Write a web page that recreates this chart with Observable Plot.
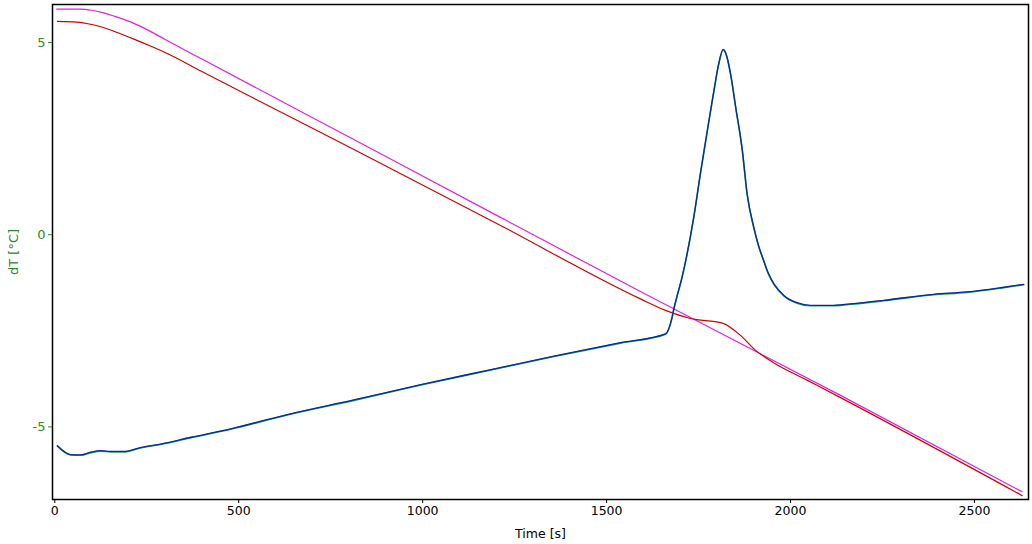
<!DOCTYPE html>
<html>
<head>
<meta charset="utf-8">
<script src="https://cdn.jsdelivr.net/npm/d3@7"></script>
<script src="https://cdn.jsdelivr.net/npm/@observablehq/plot@0.6"></script>
<style>
  html, body { margin: 0; padding: 0; background: #fff; }
  #chart svg { display: block; }
</style>
</head>
<body>
<div id="chart"></div>
<script>
// ---- data ----
const magentaTime  = [5, 70, 100, 130, 170, 215, 260, 300, 400, 800, 1200, 1592, 2136, 2630];
const magentaValue = [5.87, 5.87, 5.84, 5.78, 5.66, 5.50, 5.29, 5.08, 4.57, 2.54, 0.51, -1.48, -4.18, -6.69];

const redTime  = [7, 60, 90, 125, 170, 215, 260, 307, 397, 800, 1200, 1592, 1660, 1728, 1815, 1864, 1905, 1954, 2046, 2136, 2630];
const redValue = [5.55, 5.53, 5.49, 5.41, 5.26, 5.09, 4.91, 4.71, 4.26, 2.28, 0.30, -1.67, -1.97, -2.18, -2.30, -2.62, -3.01, -3.33, -3.79, -4.24, -6.79];

const blueTime  = [7, 43, 71, 98, 125, 152, 193, 225, 296, 370, 478, 632, 813, 995, 1176, 1357, 1538, 1660,
                   1678, 1683, 1692, 1704, 1719, 1737, 1755, 1774, 1792, 1804, 1817, 1826, 1837, 1851, 1869, 1882,
                   1900, 1913, 1927, 1940, 1955, 1982, 2018, 2054, 2109, 2163, 2253, 2389, 2480, 2571, 2634];
const blueValue = [-5.49, -5.72, -5.73, -5.66, -5.62, -5.64, -5.64, -5.56, -5.43, -5.27, -5.05, -4.68, -4.30, -3.90, -3.53, -3.16, -2.81, -2.58,
                   -2.15, -1.92, -1.58, -1.15, -0.49, 0.46, 1.59, 2.72, 3.76, 4.41, 4.82, 4.67, 4.19, 3.32, 2.20, 1.07,
                   0.20, -0.28, -0.67, -1.01, -1.28, -1.58, -1.77, -1.84, -1.84, -1.80, -1.71, -1.55, -1.49, -1.38, -1.29];

const xTicks = [0, 500, 1000, 1500, 2000, 2500];
const yTicks = [-5, 0, 5];
const xLabel = "Time [s]";
const yLabel = "dT [°C]";

// ---- tables ----
const toRows = (ts, vs) => ts.map((t, i) => ({t, v: vs[i]}));
const magenta = toRows(magentaTime, magentaValue);
const red = toRows(redTime, redValue);
const blue = toRows(blueTime, blueValue);

const green = "#2a8a2a";

const chart = Plot.plot({
  width: 1032,
  height: 544,
  marginTop: 4,
  marginLeft: 52,
  marginRight: 4,
  marginBottom: 45,
  style: {fontFamily: "DejaVu Sans", fontSize: "12px", background: "#fff"},
  x: {domain: [-6.3, 2647]},
  y: {domain: [-6.89, 5.99]},
  marks: [
    Plot.line(magenta, {x: "t", y: "v", stroke: "#e020e0", strokeWidth: 1.2, curve: "monotone-x"}),
    Plot.line(red, {x: "t", y: "v", stroke: "#d00000", strokeWidth: 1.2, curve: "monotone-x"}),
    Plot.line(blue, {x: "t", y: "v", stroke: "#1a9a6a", strokeWidth: 1.6, dy: 0.4, curve: "monotone-x"}),
    Plot.line(blue, {x: "t", y: "v", stroke: "#0a2a9a", strokeWidth: 1.3, curve: "monotone-x"}),
    Plot.axisX({ticks: xTicks, tickSize: 4, tickPadding: 3, tickFormat: d => String(d),
                label: xLabel, labelAnchor: "center", labelArrow: "none", labelOffset: 38,
                fontSize: 12.5, stroke: "black"}),
    Plot.axisY({ticks: yTicks, tickSize: 4, tickPadding: 3, tickFormat: d => String(d),
                color: green, label: yLabel, labelAnchor: "center", labelArrow: "none", labelOffset: 44,
                fontSize: 13}),
    Plot.frame({stroke: "black", strokeWidth: 1.5})
  ]
});
document.getElementById("chart").append(chart);
</script>
</body>
</html>
